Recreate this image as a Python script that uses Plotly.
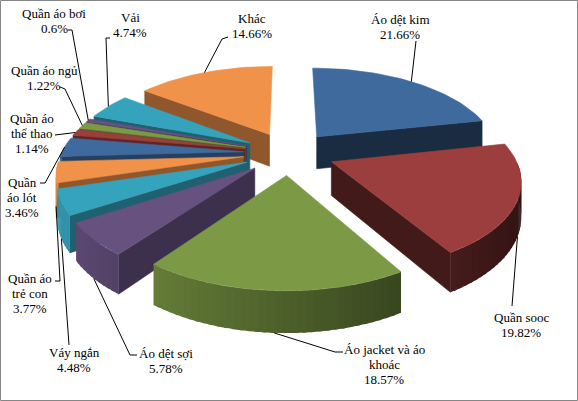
import numpy as np
import plotly.graph_objects as go

# data (share of export value, %)
categories = ['Áo dệt kim', 'Quần sooc', 'Áo jacket và áo khoác', 'Áo dệt sợi',
              'Váy ngắn', 'Quần áo trẻ con', 'Quần áo lót', 'Quần áo thể thao',
              'Quần áo ngủ', 'Quần áo bơi', 'Vải', 'Khác']
shares = [21.66, 19.82, 18.57, 5.78, 4.48, 3.77, 3.46, 1.14, 1.22, 0.6, 4.74, 14.66]
# how each name is wrapped in its label
wrapped = [['Áo dệt kim'], ['Quần sooc'], ['Áo jacket và áo', 'khoác'], ['Áo dệt sợi'],
           ['Váy ngắn'], ['Quần áo', 'trẻ con'], ['Quần', 'áo lót'], ['Quần áo', 'thể thao'],
           ['Quần áo ngủ'], ['Quần áo bơi'], ['Vải'], ['Khác']]

palette = ['#3E6A9D', '#9B3E3D', '#7C9A45', '#67517F', '#36A3BD', '#F0924A']

# label block centres and leader points on the label side (pixels)
label_pos = [(400, 27), (521, 325), (384, 364), (166, 361), (74, 360), (30, 293),
             (22, 197), (32, 133), (44, 78), (54, 21), (130, 25), (252, 26)]
leader_start = [[(416, 41)], [(512, 306)], [(343, 352), (335, 352)],
                [(137, 355), (130, 355)], [(69, 345)], [(55, 281), (60, 281)],
                [(40, 183), (45, 183)], [(55, 135)], [(60, 87), (65, 89)],
                [(68, 30), (72, 30)], [(110, 38), (106, 38)], [(228, 37), (222, 39)]]
LINE_H = 15
FONT = 'Liberation Serif, Times New Roman, serif'

# fake 3d projection of the pie disc
CX, CY = 289, 153
RX, RY = 182, 86
PERSP = 0.176
DEPTH = 33
EXPLODE = 0.25


def to_px(u, v, drop=0.0):
    s = 1.0 / (1.0 + PERSP * v)
    return CX + RX * u * s, CY - RY * v * s + DEPTH * drop * s


def shade(hexc, f):
    r, g, b = int(hexc[1:3], 16), int(hexc[3:5], 16), int(hexc[5:7], 16)
    f = max(0.0, min(1.2, f))
    return 'rgb(%d,%d,%d)' % (min(255, r * f), min(255, g * f), min(255, b * f))


def poly(pts, color, lw=0.6):
    xs = [p[0] for p in pts] + [pts[0][0]]
    ys = [p[1] for p in pts] + [pts[0][1]]
    return go.Scatter(x=xs, y=ys, mode='lines', fill='toself', fillcolor=color,
                      line=dict(color=color, width=lw), hoverinfo='skip',
                      showlegend=False)


total = sum(shares)
cum = np.concatenate([[0], np.cumsum(shares)]) / total * 360.0

slices = []
for i, val in enumerate(shares):
    a1, a2 = cum[i], cum[i + 1]
    mid = np.radians((a1 + a2) / 2)
    ex, ey = EXPLODE * np.sin(mid), EXPLODE * np.cos(mid)
    slices.append(dict(i=i, a1=a1, a2=a2, mid=mid, ex=ex, ey=ey))

fig = go.Figure()

# paint far slices first
for sl in sorted(slices, key=lambda d: -np.cos(d['mid'])):
    i, a1, a2, ex, ey = sl['i'], sl['a1'], sl['a2'], sl['ex'], sl['ey']
    col = palette[i % len(palette)]

    def rim(t, drop=0.0):
        r = np.radians(t)
        return to_px(ex + np.sin(r), ey + np.cos(r), drop)

    apex_t = to_px(ex, ey, 0)
    apex_b = to_px(ex, ey, 1)

    # cut faces
    if np.sin(np.radians(a1)) < -1e-6:
        fig.add_trace(poly([apex_t, rim(a1), rim(a1, 1), apex_b], shade(col, 0.6)))
    if np.sin(np.radians(a2)) > 1e-6:
        fig.add_trace(poly([apex_t, rim(a2), rim(a2, 1), apex_b], shade(col, 0.42)))

    # outer wall, split into overlapping bands for the lighting
    lo, hi = max(a1, 90), min(a2, 270)
    if lo < hi:
        n = max(1, int(np.ceil((hi - lo) / 2)))
        edges = np.linspace(lo, hi, n + 1)
        for k in range(n):
            t0, t1 = edges[k], min(hi, edges[k + 1] + 0.8)
            ts = np.linspace(t0, t1, 3)
            f = 0.62 - 0.32 * np.sin(np.radians((edges[k] + edges[k + 1]) / 2))
            pts = [rim(t) for t in ts] + [rim(t, 1) for t in ts[::-1]]
            fig.add_trace(poly(pts, shade(col, f), lw=0))

    # top face
    ts = np.linspace(a1, a2, max(3, int((a2 - a1) / 2) + 2))
    fig.add_trace(poly([apex_t] + [rim(t) for t in ts], col))

# labels and leader lines
for sl in slices:
    i = sl['i']
    m = sl['mid']
    drop = 0.0 if np.cos(m) > 0 else 1.0
    anchor = to_px(sl['ex'] + np.sin(m), sl['ey'] + np.cos(m), drop)
    pts = leader_start[i] + [anchor]
    fig.add_trace(go.Scatter(x=[p[0] for p in pts], y=[p[1] for p in pts], mode='lines',
                             line=dict(color='black', width=1), hoverinfo='skip',
                             showlegend=False))
    lx, ly = label_pos[i]
    lines = wrapped[i] + [format(shares[i], 'g') + '%']
    for k, txt in enumerate(lines):
        fig.add_annotation(x=lx, y=ly + (k - (len(lines) - 1) / 2) * LINE_H,
                           xref='x', yref='y', showarrow=False, text=txt,
                           font=dict(family=FONT, size=13, color='black'),
                           xanchor='center', yanchor='middle')

fig.add_shape(type='rect', xref='x', yref='y', x0=0.5, y0=0.5, x1=577.5, y1=400.5,
              line=dict(color='#868686', width=1), fillcolor='rgba(0,0,0,0)')

fig.update_layout(
    width=578, height=401,
    margin=dict(l=0, r=0, t=0, b=0),
    paper_bgcolor='white', plot_bgcolor='white',
    xaxis=dict(range=[0, 578], visible=False, fixedrange=True),
    yaxis=dict(range=[401, 0], visible=False, fixedrange=True),
    showlegend=False,
)

fig.write_html("out.html", config={'displayModeBar': False},
               post_script="document.body.style.margin='0';")
